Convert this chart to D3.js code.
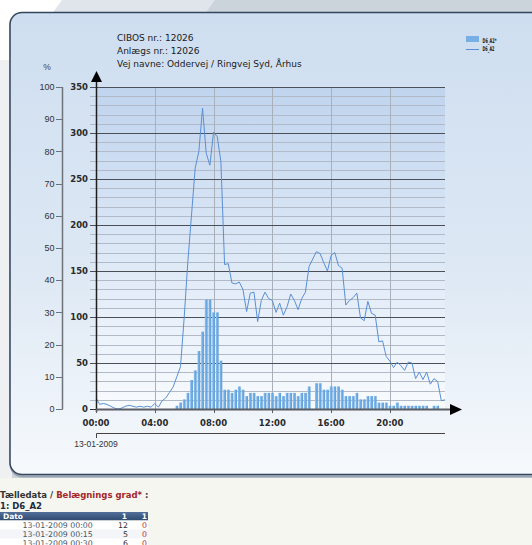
<!DOCTYPE html>
<html>
<head>
<meta charset="utf-8">
<script src="https://cdn.jsdelivr.net/npm/d3@7"></script>
<style>
  html, body { margin: 0; padding: 0; overflow: hidden; background: #f6f6f1; }
</style>
</head>
<body>
<script>
const width = 532, height = 545;

// D6_A2: counts per 15 minutes (right scale, 0-350)
const counts = [
  12, 5, 6, 5, 3, 1, 0, 1, 3, 4, 3, 2, 3, 2, 3, 2,
  6, 2, 9, 12, 18, 24, 35, 46, 99, 160, 211, 262, 280, 327, 278, 265,
  301, 296, 269, 157, 158, 137, 136, 138, 130, 106, 126, 127, 95, 118, 127, 120,
  118, 105, 115, 102, 111, 125, 118, 108, 120, 127, 155, 163, 171, 169, 159, 150,
  167, 170, 156, 153, 113, 118, 121, 126, 99, 96, 117, 104, 102, 73, 74, 57,
  52, 45, 51, 47, 42, 51, 50, 33, 40, 32, 40, 27, 33, 30, 9, 10
];
// D6_A2*: occupancy in % (left scale, 0-100)
const occupancy = [
  0, 0, 0, 0, 0, 0, 0, 0, 0, 0, 0, 0, 0, 0, 0, 0,
  0, 0, 0, 0, 0, 0, 1, 2, 3, 5, 9, 12, 18, 24, 34, 34,
  30, 30, 15, 6, 6, 5, 6, 7, 6, 4, 5, 5, 4, 4, 5, 5,
  5, 4, 5, 4, 5, 5, 5, 4, 5, 5, 7, 0, 8, 8, 6, 6,
  7, 7, 7, 6, 4, 4, 4, 5, 3, 3, 4, 4, 4, 2, 2, 2,
  1, 1, 2, 1, 1, 1, 1, 1, 1, 1, 1, 0, 1, 1, 0, 0
];
// 15 minute slots, in hours
const slots = d3.range(counts.length).map(i => i / 4);

const hourTicks = [0, 4, 8, 12, 16, 20];
const countTicks = [0, 50, 100, 150, 200, 250, 300, 350];
const pctTicks = [0, 10, 20, 30, 40, 50, 60, 70, 80, 90, 100];
const titleLines = ["CIBOS nr.: 12026", "Anlægs nr.: 12026", "Vej navne: Oddervej / Ringvej Syd, Århus"];
const legendItems = ["D6_A2*", "D6_A2"];
const dateLabel = "13-01-2009";
const tableHead = ["Dato", "1", "1"];
const tableRows = [
  ["13-01-2009 00:00", 12, 0],
  ["13-01-2009 00:15", 5, 0],
  ["13-01-2009 00:30", 6, 0]
];

const x = d3.scaleLinear().domain([0, 23.75]).range([96, 445]);
const y = d3.scaleLinear().domain([0, 350]).range([409, 87]);
const yp = d3.scaleLinear().domain([0, 100]).range([409, 87]);

const svg = d3.select("body").append("svg")
  .attr("width", width)
  .attr("height", height)
  .attr("viewBox", [0, 0, width, height]);

const defs = svg.append("defs");
function vgrad(id, stops, horizontal) {
  const g = defs.append("linearGradient").attr("id", id)
    .attr("x1", 0).attr("y1", 0)
    .attr("x2", horizontal ? 1 : 0).attr("y2", horizontal ? 0 : 1);
  stops.forEach(([o, c]) => g.append("stop").attr("offset", o).attr("stop-color", c));
}
vgrad("panelGrad", [[0, "#cedef0"], [0.55, "#dde8f4"], [1, "#f6f9fc"]]);
vgrad("plotGrad", [[0, "#c0d4ee"], [1, "#f8fbfe"]]);
vgrad("barGrad", [[0, "#9ccaf2"], [0.35, "#74b0e6"], [1, "#5d9bd8"]], true);
vgrad("headGrad", [[0, "#52709a"], [1, "#2f4a70"]]);

// page background decoration
svg.append("rect").attr("width", width).attr("height", height).attr("fill", "#f6f6f1");
svg.append("rect").attr("width", width).attr("height", 478).attr("fill", "#cbd3db");
svg.append("path").attr("d", "M0,0L215,0L150,90L0,90Z").attr("fill", "#dfe5ea");
svg.append("path").attr("d", "M0,0L62,0L0,85Z").attr("fill", "#ffffff");
svg.append("rect").attr("x", 0).attr("y", 60).attr("width", 12).attr("height", 418).attr("fill", "#eef0f2");

// panel
svg.append("rect")
  .attr("x", 10.5).attr("y", 13.5).attr("width", 560).attr("height", 463)
  .attr("rx", 12).attr("fill", "none").attr("stroke", "#9aa4b0").attr("stroke-width", 2);
svg.append("rect")
  .attr("x", 10).attr("y", 12.5).attr("width", 560).attr("height", 462)
  .attr("rx", 12).attr("fill", "url(#panelGrad)").attr("stroke", "#33465c").attr("stroke-width", 1.5);

// title
svg.append("g").selectAll("text").data(titleLines).join("text")
  .attr("x", 117).attr("y", (d, i) => 41 + i * 13)
  .attr("font-family", "DejaVu Sans").attr("font-size", 9)
  .attr("fill", "#1a1a1a").text(d => d);

// legend
const lg = svg.append("g");
lg.append("rect").attr("x", 466).attr("y", 36).attr("width", 13).attr("height", 6).attr("fill", "#78b0e6");
lg.append("line").attr("x1", 466).attr("x2", 479).attr("y1", 49.5).attr("y2", 49.5)
  .attr("stroke", "#5a8fd6").attr("stroke-width", 1);
lg.selectAll("text").data(legendItems).join("text")
  .attr("x", 482.5).attr("y", (d, i) => 42.5 + i * 8.5)
  .attr("font-family", "DejaVu Sans").attr("font-size", 6.5).attr("font-weight", "bold")
  .attr("textLength", (d, i) => i ? 12 : 14).attr("lengthAdjust", "spacingAndGlyphs")
  .attr("fill", "#222").text(d => d);

// plot background
svg.append("rect")
  .attr("x", x(0)).attr("y", y(350)).attr("width", x(23.75) - x(0)).attr("height", y(0) - y(350))
  .attr("fill", "url(#plotGrad)");

// minor grid every 10
svg.append("g").selectAll("line").data(d3.range(10, 350, 10).filter(v => v % 50)).join("line")
  .attr("x1", 90).attr("x2", x(23.75))
  .attr("y1", d => Math.round(y(d)) + 0.5).attr("y2", d => Math.round(y(d)) + 0.5)
  .attr("stroke", "#b1bac6").attr("stroke-width", 1);

// vertical grid
svg.append("g").selectAll("line").data(hourTicks.slice(1)).join("line")
  .attr("x1", d => Math.round(x(d)) + 0.5).attr("x2", d => Math.round(x(d)) + 0.5)
  .attr("y1", y(350)).attr("y2", y(0))
  .attr("stroke", "#a9b0ba").attr("stroke-width", 1);

// major grid every 50
svg.append("g").selectAll("line").data(countTicks.slice(1)).join("line")
  .attr("x1", 90).attr("x2", x(23.75))
  .attr("y1", d => Math.round(y(d)) + 0.5).attr("y2", d => Math.round(y(d)) + 0.5)
  .attr("stroke", "#4a4f58").attr("stroke-width", 1);

// bars (occupancy %)
svg.append("g").selectAll("rect").data(occupancy.map((v, i) => [slots[i], v]).filter(d => d[1] > 0)).join("rect")
  .attr("x", d => x(d[0]) - 1.4).attr("width", 2.8)
  .attr("y", d => yp(d[1])).attr("height", d => yp(0) - yp(d[1]))
  .attr("fill", "url(#barGrad)");

// line (counts)
svg.append("path")
  .datum(counts.map((v, i) => [slots[i], v]))
  .attr("fill", "none").attr("stroke", "#5a8fd6").attr("stroke-width", 1)
  .attr("d", d3.line().x(d => x(d[0])).y(d => y(d[1])));

// count axis
const countAxis = svg.append("g");
countAxis.selectAll("text").data(countTicks).join("text")
  .attr("x", 88).attr("y", d => y(d) + 3.2).attr("text-anchor", "end")
  .attr("font-family", "DejaVu Sans").attr("font-size", 8.5).attr("font-weight", "bold")
  .attr("fill", "#2a2a2a").text(d => d);
countAxis.append("line").attr("x1", 90).attr("x2", 96).attr("y1", 409.5).attr("y2", 409.5).attr("stroke", "#333");
countAxis.append("line").attr("x1", 96.5).attr("x2", 96.5).attr("y1", 80).attr("y2", 412)
  .attr("stroke", "#1e1e1e").attr("stroke-width", 1.5);
countAxis.append("path").attr("d", "M96.5,71L102,82L91,82Z").attr("fill", "#000");

// percent axis
const pctAxis = svg.append("g");
pctAxis.append("line").attr("x1", 62.5).attr("x2", 62.5).attr("y1", yp(100)).attr("y2", yp(0) + 0.5)
  .attr("stroke", "#6e737a").attr("stroke-width", 1.5);
pctAxis.selectAll("line.t").data(pctTicks).join("line").attr("class", "t")
  .attr("x1", 56).attr("x2", 62.5)
  .attr("y1", d => Math.round(yp(d)) + 0.5).attr("y2", d => Math.round(yp(d)) + 0.5)
  .attr("stroke", "#6e737a").attr("stroke-width", 1);
pctAxis.selectAll("text").data(pctTicks).join("text")
  .attr("x", 54.5).attr("y", d => yp(d) + 3.2).attr("text-anchor", "end")
  .attr("font-family", "Liberation Sans").attr("font-size", 9)
  .attr("fill", "#333").text(d => d);
svg.append("text").attr("x", 47).attr("y", 69.5).attr("text-anchor", "middle")
  .attr("font-family", "Liberation Sans").attr("font-size", 8.5).attr("fill", "#444").text("%");

// x axis
const xAxis = svg.append("g");
xAxis.append("line").attr("x1", 96).attr("x2", 452).attr("y1", 409.5).attr("y2", 409.5)
  .attr("stroke", "#5a5e64").attr("stroke-width", 2);
xAxis.append("path").attr("d", "M462,409.5L450,404L450,415Z").attr("fill", "#000");
xAxis.selectAll("line.t").data(hourTicks).join("line").attr("class", "t")
  .attr("x1", d => Math.round(x(d)) + 0.5).attr("x2", d => Math.round(x(d)) + 0.5)
  .attr("y1", 409).attr("y2", 413).attr("stroke", "#5a5e64");
xAxis.selectAll("text").data(hourTicks).join("text")
  .attr("x", d => x(d)).attr("y", 425.5).attr("text-anchor", "middle")
  .attr("font-family", "DejaVu Sans").attr("font-size", 8.5).attr("font-weight", "bold")
  .attr("fill", "#2a2a2a").text(d => String(d).padStart(2, "0") + ":00");

// date bracket
svg.append("path").attr("d", `M${x(0) + 0.5},438V433.5H${x(23.75)}`)
  .attr("fill", "none").attr("stroke", "#444").attr("stroke-width", 1);
svg.append("text").attr("x", x(0)).attr("y", 447).attr("text-anchor", "middle")
  .attr("font-family", "Liberation Sans").attr("font-size", 8.5).attr("fill", "#333").text(dateLabel);

// data table below the panel
const head = svg.append("text").attr("x", 0).attr("y", 497.5)
  .attr("font-family", "DejaVu Sans").attr("font-size", 8.5).attr("font-weight", "bold");
head.append("tspan").attr("fill", "#333").text("Tælledata / ");
head.append("tspan").attr("fill", "#a3262a").text("Belægnings grad*");
head.append("tspan").attr("fill", "#333").text(" :");
svg.append("text").attr("x", 0).attr("y", 509)
  .attr("font-family", "DejaVu Sans").attr("font-size", 8.5).attr("font-weight", "bold")
  .attr("fill", "#1c2a40").text("1: D6_A2");

svg.append("rect").attr("x", 0).attr("y", 512).attr("width", 148).attr("height", 8.5).attr("fill", "url(#headGrad)");
const colX = [3, 127, 147];
svg.append("g").selectAll("text").data(tableHead).join("text")
  .attr("x", (d, i) => colX[i]).attr("y", 519)
  .attr("text-anchor", (d, i) => i ? "end" : "start")
  .attr("font-family", "DejaVu Sans").attr("font-size", 7.5).attr("font-weight", "bold")
  .attr("fill", "#fff").text(d => d);

const rows = svg.append("g").selectAll("g").data(tableRows).join("g")
  .attr("transform", (d, i) => `translate(0,${520.5 + i * 9})`);
rows.append("rect").attr("x", 0).attr("width", 148).attr("height", 9)
  .attr("fill", (d, i) => i % 2 ? "#f3f5f8" : "#ffffff");
rows.append("text").attr("x", 22.5).attr("y", 7.5)
  .attr("font-family", "DejaVu Sans").attr("font-size", 7.8).attr("fill", "#4a5566").text(d => d[0]);
rows.append("text").attr("x", 128).attr("y", 7.5).attr("text-anchor", "end")
  .attr("font-family", "DejaVu Sans").attr("font-size", 7.8).attr("fill", "#333").text(d => d[1]);
rows.append("text").attr("x", 147).attr("y", 7.5).attr("text-anchor", "end")
  .attr("font-family", "DejaVu Sans").attr("font-size", 7.8).attr("fill", "#c0282c").text(d => d[2]);
</script>
</body>
</html>
